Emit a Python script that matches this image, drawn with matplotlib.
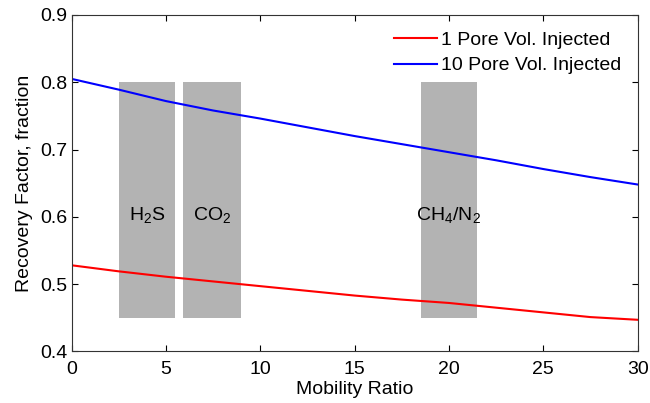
import numpy as np
import matplotlib.pyplot as plt
from matplotlib.patches import Rectangle

plt.rcParams['font.family'] = ['Liberation Sans', 'DejaVu Sans']
plt.rcParams['mathtext.fontset'] = 'custom'
plt.rcParams['mathtext.rm'] = 'Liberation Sans'

# recovery curves vs mobility ratio
mobility = [0, 2.5, 5, 7.5, 10, 12.5, 15, 17.5, 20, 22.5, 25, 27.5, 30]
rf_1pv = [0.528, 0.519, 0.511, 0.504, 0.497, 0.490, 0.483, 0.477, 0.472, 0.465, 0.458, 0.451, 0.447]
rf_10pv = [0.805, 0.789, 0.772, 0.758, 0.746, 0.733, 0.720, 0.708, 0.696, 0.684, 0.671, 0.659, 0.648]

# typical mobility-ratio ranges per injection gas
gas_names = [r'$\mathregular{H_2S}$', r'$\mathregular{CO_2}$', r'$\mathregular{CH_4/N_2}$']
gas_lo = [2.5, 5.9, 18.5]
gas_hi = [5.5, 9.0, 21.5]
band_bottom, band_top = 0.45, 0.80

fs = 14

fig = plt.figure(figsize=(6.5, 4.03), dpi=100)
ax = fig.add_axes([0.110, 0.128, 0.871, 0.835])

for name, lo, hi in zip(gas_names, gas_lo, gas_hi):
    ax.add_patch(Rectangle((lo, band_bottom), hi - lo, band_top - band_bottom,
                           facecolor='#b3b3b3', edgecolor='none', zorder=1))
    ax.text((lo + hi) / 2, 0.603, name, ha='center', va='center', fontsize=fs, zorder=3)

ax.plot(mobility, rf_1pv, color='red', lw=1.5, label='1 Pore Vol. Injected', zorder=2)
ax.plot(mobility, rf_10pv, color='blue', lw=1.5, label='10 Pore Vol. Injected', zorder=2)

ax.set_xlim(0, 30)
ax.set_ylim(0.4, 0.9)
ax.set_xticks(np.arange(0, 31, 5))
ax.set_yticks(np.arange(0.4, 0.91, 0.1))
ax.tick_params(direction='in', top=True, right=True, labelsize=fs, length=4)
ax.tick_params(axis='x', pad=7)
ax.tick_params(axis='y', pad=3)
for sp in ax.spines.values():
    sp.set_color('#333333')
ax.set_xlabel('Mobility Ratio', fontsize=fs, labelpad=2)
ax.set_ylabel('Recovery Factor, fraction', fontsize=fs, labelpad=5)

ax.legend(loc='upper right', frameon=False, fontsize=fs, handlelength=2.2,
          handletextpad=0.2, labelspacing=0.4, borderaxespad=0.45)

fig.savefig('out.png', dpi=100)
